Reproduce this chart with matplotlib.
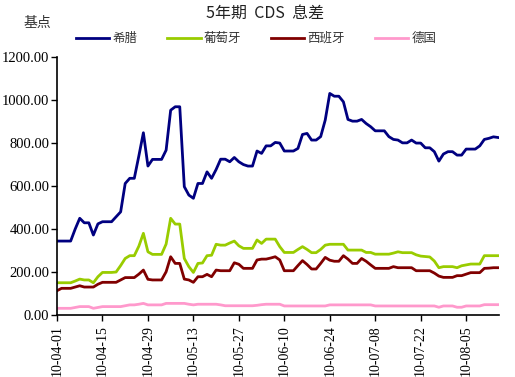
import numpy as np
import pandas as pd
import matplotlib
matplotlib.use('Agg')
import matplotlib.pyplot as plt

# 5-year CDS spreads (bp), business days from 2010-04-01
dates = pd.bdate_range('2010-04-01', periods=98)

greece = [344, 344, 344, 344, 400, 450, 429, 429, 372, 424,
          434, 434, 434, 457, 480, 612, 636, 636, 740, 848,
          693, 724, 724, 724, 767, 953, 969, 969, 597, 558,
          543, 612, 612, 666, 636, 677, 725, 725, 713, 733,
          713, 700, 693, 693, 763, 752, 787, 787, 803, 800,
          763, 763, 763, 775, 840, 845, 814, 814, 830, 907,
          1031, 1018, 1018, 992, 910, 902, 902, 910, 891, 876,
          857, 857, 857, 830, 817, 814, 801, 801, 814, 800,
          800, 778, 778, 760, 716, 749, 760, 760, 744, 744,
          772, 772, 772, 787, 817, 822, 829, 826]

portugal = [150, 150, 150, 150, 158, 167, 163, 163, 150, 178,
            198, 198, 198, 200, 230, 263, 276, 276, 320, 380,
            294, 282, 282, 282, 330, 450, 423, 423, 263, 225,
            198, 240, 242, 276, 278, 329, 325, 325, 335, 344,
            322, 310, 310, 310, 349, 333, 353, 353, 353, 318,
            291, 291, 291, 305, 318, 305, 290, 290, 305, 325,
            329, 329, 329, 329, 302, 302, 302, 302, 291, 291,
            283, 283, 283, 283, 288, 294, 290, 290, 290, 280,
            274, 272, 270, 251, 220, 225, 225, 225, 220, 229,
            233, 237, 237, 237, 276, 276, 276, 276]

spain = [113, 124, 124, 124, 130, 136, 130, 130, 130, 143,
         152, 152, 152, 152, 163, 174, 174, 174, 190, 209,
         166, 163, 163, 163, 201, 271, 240, 240, 167, 163,
         152, 178, 178, 189, 178, 209, 206, 206, 206, 243,
         236, 217, 217, 217, 256, 260, 260, 265, 271, 256,
         206, 206, 206, 230, 253, 235, 214, 214, 240, 268,
         255, 250, 250, 276, 260, 240, 240, 263, 250, 233,
         217, 217, 217, 217, 225, 220, 220, 220, 220, 206,
         206, 206, 206, 195, 181, 175, 175, 175, 183, 183,
         190, 197, 197, 197, 217, 218, 220, 220]

germany = [31, 31, 31, 31, 35, 39, 39, 39, 31, 35,
           39, 39, 39, 39, 39, 43, 47, 47, 50, 54,
           47, 47, 47, 47, 54, 54, 54, 54, 54, 50,
           47, 50, 50, 50, 50, 50, 47, 43, 43, 43,
           43, 43, 43, 43, 45, 48, 50, 50, 50, 50,
           42, 42, 42, 42, 42, 42, 42, 42, 42, 42,
           47, 47, 47, 47, 47, 47, 47, 47, 47, 47,
           42, 42, 42, 42, 42, 42, 42, 42, 42, 42,
           42, 42, 42, 42, 36, 42, 42, 42, 36, 36,
           42, 42, 42, 42, 48, 48, 48, 48]

names = ['希腊', '葡萄牙', '西班牙', '德国']
colors = ['#000080', '#99CC00', '#800000', '#FF99CC']

cjk = ['Noto Sans CJK SC', 'DejaVu Sans']
serif = ['Liberation Serif', 'DejaVu Serif']

fig = plt.figure(figsize=(5.15, 3.77), dpi=100)
ax = fig.add_axes([0.1107, 0.1645, 0.858, 0.684])

x = np.arange(len(dates))
for s, name, c in zip([greece, portugal, spain, germany], names, colors):
    ax.plot(x, s, color=c, lw=2.0, label=name)

ax.set_ylim(0, 1200)
ax.set_yticks(np.arange(0, 1201, 200))
ax.set_yticklabels(['%.2f' % v for v in np.arange(0, 1201, 200)],
                   family=serif, fontsize=10.5)
ax.set_xlim(0, 97.2)
ticks = x[::10]
ax.set_xticks(ticks)
ax.set_xticklabels([dates[i].strftime('%y-%m-%d') for i in ticks],
                   rotation=90, family=serif, fontsize=10)
ax.tick_params(axis='both', direction='out', length=4, width=1, colors='black')
ax.tick_params(axis='y', pad=1.5)
for side in ['top', 'right']:
    ax.spines[side].set_visible(False)
for side in ['left', 'bottom']:
    ax.spines[side].set_linewidth(1.2)

fig.text(0.515, 0.965, '5年期  CDS  息差', ha='center', va='center',
         family=cjk, fontsize=11.5, color='#222222')
fig.text(0.072, 0.94, '基点', ha='center', va='center',
         family=cjk, fontsize=10, color='#333333')

fig.legend(loc='center left', bbox_to_anchor=(0.148, 0.898), ncol=4,
           frameon=False, prop={'family': cjk, 'size': 9},
           handlelength=2.65, handletextpad=0.25, columnspacing=2.4,
           borderaxespad=0, borderpad=0, labelcolor='#333333')

fig.savefig('out.png', dpi=100)
